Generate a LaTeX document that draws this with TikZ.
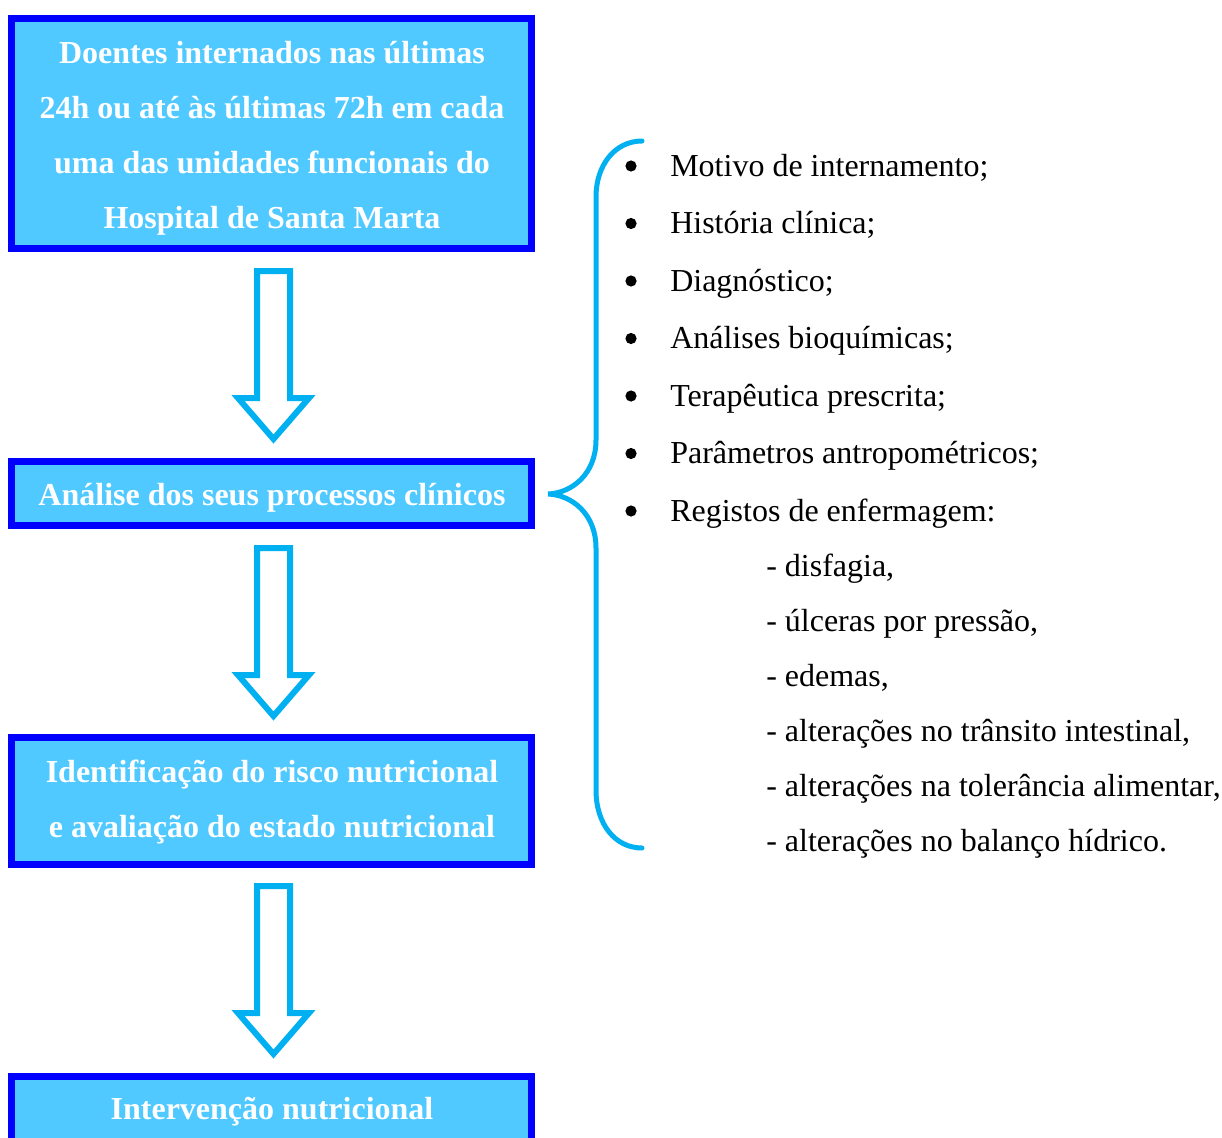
\documentclass[tikz,border=0pt]{standalone}
\usepackage{fontspec}
\setmainfont{Liberation Serif}
\definecolor{boxfill}{RGB}{79,201,255}
\definecolor{boxline}{RGB}{0,0,255}
\definecolor{arrowblue}{RGB}{0,176,240}
\newcommand\pxu{0.75pt}
\tikzset{
  flowbox/.style={draw=boxline, fill=boxfill, line width=7*\pxu, rectangle, inner sep=0pt, outer sep=0pt},
  boxtext/.style={anchor=base, inner sep=0pt, text=white, font=\fontsize{24}{24}\selectfont\bfseries},
  listtext/.style={anchor=base west, inner sep=0pt, font=\fontsize{24}{24}\selectfont},
  blockarrow/.style={draw=arrowblue, fill=white, line width=6*\pxu, line join=miter},
  bracestyle/.style={draw=arrowblue, line width=5*\pxu, line cap=round}
}
\begin{document}
\begin{tikzpicture}[x=0.75pt, y=-0.75pt]
\clip (0,0) rectangle (1222,1138);
\fill[white] (0,0) rectangle (1222,1138);

% boxes
\node[flowbox, minimum width=520*\pxu, minimum height=230*\pxu] (b1) at (271.5,133.5) {};
\node[flowbox, minimum width=520*\pxu, minimum height=64*\pxu] (b2) at (271.5,493.5) {};
\node[flowbox, minimum width=520*\pxu, minimum height=127*\pxu] (b3) at (271.5,801) {};
\node[flowbox, minimum width=520*\pxu, minimum height=74*\pxu] (b4) at (271.5,1113.5) {};

% box texts
\node[boxtext] (t1a) at (272,63.5) {Doentes internados nas últimas};
\node[boxtext] (t1b) at (272,118.5) {24h ou até às últimas 72h em cada};
\node[boxtext] (t1c) at (272,173.3) {uma das unidades funcionais do};
\node[boxtext] (t1d) at (272,228) {Hospital de Santa Marta};
\node[boxtext] (t2) at (272,505) {Análise dos seus processos clínicos};
\node[boxtext] (t3a) at (272,782.7) {Identificação do risco nutricional};
\node[boxtext] (t3b) at (272,837.7) {e avaliação do estado nutricional};
\node[boxtext] (t4) at (272,1119.5) {Intervenção nutricional};

% block arrows
\foreach \t in {271,548,886}{
  \draw[blockarrow] (257,\t) -- (290,\t) -- (290,\t+127) -- (309,\t+127)
    -- (273.5,\t+168) -- (238,\t+127) -- (257,\t+127) -- cycle;
}

% brace
\coordinate (bracetip) at (548,494);
\draw[bracestyle] (642,141) .. controls (615,141) and (596,165) .. (596,197)
  -- (596,440) .. controls (596,474) and (572,493) .. (bracetip)
  .. controls (572,495) and (596,514) .. (596,548)
  -- (596,790) .. controls (596,824) and (615,848) .. (642,848);

% bullet list
\foreach \y/\txt [count=\i] in {176/{Motivo de internamento;},233.5/{História clínica;},291/{Diagnóstico;},348.5/{Análises bioquímicas;},406/{Terapêutica prescrita;},463.5/{Parâmetros antropométricos;},521/{Registos de enfermagem:}}{
  \fill (631,\y-10) circle (5.6);
  \node[listtext] (li\i) at (670,\y) {\txt};
}

% sub items
\foreach \y/\txt [count=\i] in {576.7/{- disfagia,},631.7/{- úlceras por pressão,},686.7/{- edemas,},741.7/{- alterações no trânsito intestinal,},796.7/{- alterações na tolerância alimentar,},851.7/{- alterações no balanço hídrico.}}{
  \node[listtext] (si\i) at (766,\y) {\txt};
}
\end{tikzpicture}
\end{document}
